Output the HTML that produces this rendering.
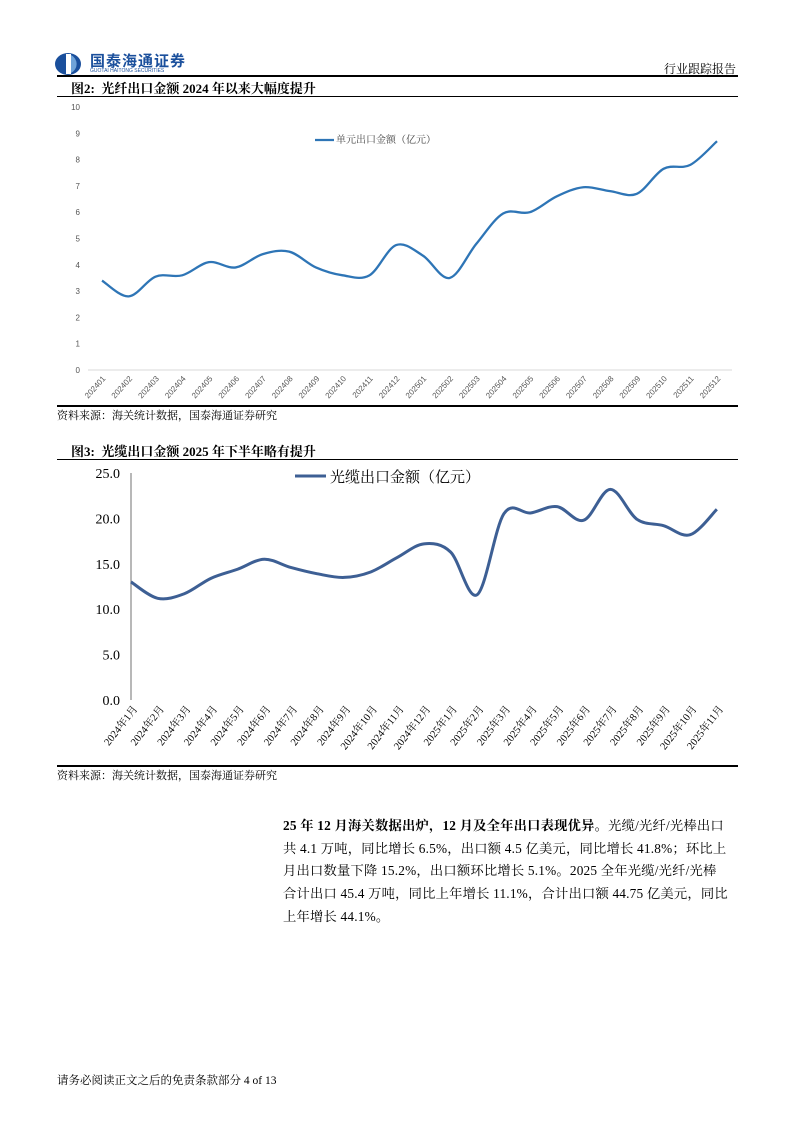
<!DOCTYPE html>
<html><head><meta charset="utf-8"><style>
body{margin:0;background:#fff;width:794px;height:1123px;position:relative;overflow:hidden;font-family:"Liberation Serif","Noto Serif CJK SC",serif;color:#000}
.a{position:absolute;white-space:nowrap}
.hr{position:absolute;left:57px;width:681px;background:#000}
.p{font-size:13.3px;left:283px;letter-spacing:0.2px}
</style></head><body>
<svg class="a" style="left:55px;top:52px" width="30" height="24"><ellipse cx="13" cy="12" rx="13" ry="11" fill="#1a4f9c"/><rect x="11" y="2" width="5" height="20" fill="#fff"/><path d="M16 3 A10 10 0 0 1 16 21 Z" fill="#6fa3d8"/></svg>
<div class="a" style="left:90px;top:50px;font-family:'Noto Sans CJK SC',sans-serif;font-size:15px;font-weight:bold;color:#1a4f9c;letter-spacing:1px">国泰海通证券</div>
<div class="a" style="left:90px;top:68px;font-family:'Liberation Sans',sans-serif;font-size:5px;color:#1a4f9c">GUOTAI HAITONG SECURITIES</div>
<div class="a" style="left:664px;top:60px;font-size:12px">行业跟踪报告</div>
<div class="hr" style="top:75px;height:1.5px"></div>
<div class="a" style="left:71px;top:78px;font-size:13px;font-weight:bold">图2:&nbsp; 光纤出口金额 2024 年以来大幅度提升</div>
<div class="hr" style="top:96px;height:1px"></div>
<svg class="a" style="left:0;top:0" width="794" height="800" id="s"></svg>
<div class="hr" style="top:405px;height:1.5px"></div>
<div class="a" style="left:57px;top:407px;font-size:11px">资料来源：海关统计数据，国泰海通证券研究</div>
<div class="a" style="left:71px;top:441px;font-size:13px;font-weight:bold">图3:&nbsp; 光缆出口金额 2025 年下半年略有提升</div>
<div class="hr" style="top:459px;height:1px"></div>
<div class="hr" style="top:765px;height:1.5px"></div>
<div class="a" style="left:57px;top:767px;font-size:11px">资料来源：海关统计数据，国泰海通证券研究</div>
<div class="a p" style="top:815px"><b>25 年 12 月海关数据出炉，12 月及全年出口表现优异。</b>光缆/光纤/光棒出口</div>
<div class="a p" style="top:838px">共 4.1 万吨，同比增长 6.5%，出口额 4.5 亿美元，同比增长 41.8%；环比上</div>
<div class="a p" style="top:860px">月出口数量下降 15.2%，出口额环比增长 5.1%。2025 全年光缆/光纤/光棒</div>
<div class="a p" style="top:883px">合计出口 45.4 万吨，同比上年增长 11.1%，合计出口额 44.75 亿美元，同比</div>
<div class="a p" style="top:906px">上年增长 44.1%。</div>
<div class="a" style="left:57px;top:1072px;font-size:11.5px">请务必阅读正文之后的免责条款部分 4 of 13</div>
<script>
function sm(pts){let d="M"+pts[0][0]+","+pts[0][1];for(let i=0;i<pts.length-1;i++){const p0=pts[i-1]||pts[i],p1=pts[i],p2=pts[i+1],p3=pts[i+2]||p2;const t=6;d+=" C"+(p1[0]+(p2[0]-p0[0])/t)+","+(p1[1]+(p2[1]-p0[1])/t)+" "+(p2[0]-(p3[0]-p1[0])/t)+","+(p2[1]-(p3[1]-p1[1])/t)+" "+p2[0]+","+p2[1];}return d;}
let h="";
const d1=[3.4,2.8,3.55,3.6,4.1,3.9,4.4,4.5,3.9,3.6,3.6,4.75,4.35,3.5,4.8,5.95,6.0,6.6,6.95,6.8,6.7,7.65,7.8,8.7];
const lab1=["202401","202402","202403","202404","202405","202406","202407","202408","202409","202410","202411","202412","202501","202502","202503","202504","202505","202506","202507","202508","202509","202510","202511","202512"];
for(let v=0;v<=10;v++){h+=`<text x="80" y="${370-v*26.3+3}" font-size="8" fill="#555" text-anchor="end" font-family="Liberation Sans">${v}</text>`;}
h+=`<line x1="88" y1="370" x2="732" y2="370" stroke="#d9d9d9"/>`;
const p1=d1.map((v,i)=>[102+i*26.74,370-v*26.3]);
lab1.forEach((l,i)=>{const x=102+i*26.74;h+=`<text transform="translate(${x+4},379) rotate(-48)" font-size="8" fill="#555" text-anchor="end" font-family="Liberation Sans">${l}</text>`;});
h+=`<path d="${sm(p1)}" fill="none" stroke="#2e75b6" stroke-width="2.3"/>`;
h+=`<line x1="315" y1="140" x2="334" y2="140" stroke="#2e75b6" stroke-width="2.3"/><text x="336" y="143" font-size="10" fill="#444" font-family="Liberation Serif,Noto Serif CJK SC">单元出口金额（亿元）</text>`;
const d2=[13.0,11.2,11.7,13.4,14.4,15.5,14.6,13.9,13.5,14.1,15.7,17.2,16.3,11.6,20.5,20.6,21.3,19.8,23.2,19.9,19.2,18.2,21.0];
for(let v=0;v<=25;v+=5){h+=`<text x="120" y="${700-v*9.08+5}" font-size="14" fill="#000" text-anchor="end" font-family="Liberation Serif">${v.toFixed(1)}</text>`;}
h+=`<line x1="131" y1="473" x2="131" y2="700" stroke="#888" stroke-width="1.2"/>`;
const p2=d2.map((v,i)=>[131+i*26.63,700-v*9.08]);
d2.forEach((v,i)=>{const x=131+i*26.63;const y=i<12?2024:2025;const m=i<12?i+1:i-11;h+=`<text transform="translate(${x+7},709) rotate(-52)" font-size="10.5" fill="#000" text-anchor="end" font-family="Liberation Serif,Noto Serif CJK SC">${y}年${m}月</text>`;});
h+=`<path d="${sm(p2)}" fill="none" stroke="#3d5f94" stroke-width="3"/>`;
h+=`<line x1="295" y1="476" x2="326" y2="476" stroke="#3d5f94" stroke-width="3"/><text x="330" y="482" font-size="15" fill="#000" font-family="Liberation Serif,Noto Serif CJK SC">光缆出口金额（亿元）</text>`;
document.getElementById("s").innerHTML=h;
</script>
</body></html>
